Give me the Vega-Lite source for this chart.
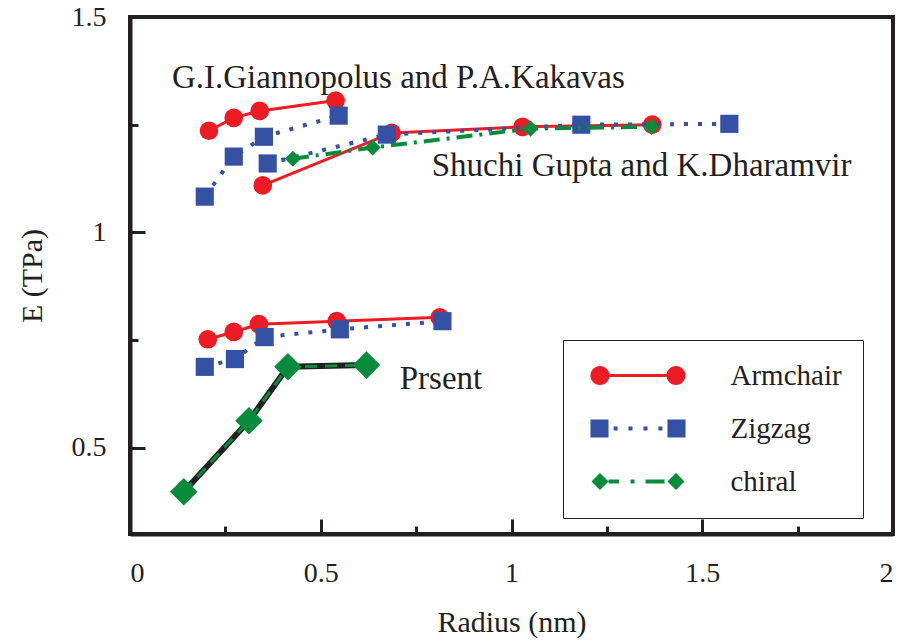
{
  "$schema": "https://vega.github.io/schema/vega-lite/v6.json",
  "width": 763,
  "height": 517,
  "autosize": {"type": "none"},
  "padding": {"left": 130, "top": 17, "right": 12, "bottom": 109},
  "background": "white",
  "config": {
    "view": {"stroke": "#231f20", "strokeWidth": 4},
    "font": "Liberation Serif",
    "legend": {"strokeColor": "#231f20", "fillColor": "white"},
    "axis": {
      "grid": false,
      "domainColor": "#231f20",
      "domainWidth": 4,
      "tickColor": "#231f20",
      "tickWidth": 3,
      "labelFont": "Liberation Serif",
      "labelFontSize": 28,
      "labelColor": "#231f20",
      "titleFont": "Liberation Serif",
      "titleFontSize": 30,
      "titleFontWeight": "normal",
      "titleColor": "#231f20"
    }
  },
  "datasets": {
    "main": [
      {"group": "Giannopolus", "type": "Armchair", "r": 0.207, "E": 1.236},
      {"group": "Giannopolus", "type": "Armchair", "r": 0.272, "E": 1.266},
      {"group": "Giannopolus", "type": "Armchair", "r": 0.340, "E": 1.282},
      {"group": "Giannopolus", "type": "Armchair", "r": 0.539, "E": 1.306},
      {"group": "Giannopolus", "type": "Zigzag", "r": 0.196, "E": 1.083},
      {"group": "Giannopolus", "type": "Zigzag", "r": 0.272, "E": 1.176},
      {"group": "Giannopolus", "type": "Zigzag", "r": 0.351, "E": 1.222},
      {"group": "Giannopolus", "type": "Zigzag", "r": 0.547, "E": 1.271},
      {"group": "Gupta", "type": "Armchair", "r": 0.348, "E": 1.109},
      {"group": "Gupta", "type": "Armchair", "r": 0.686, "E": 1.231},
      {"group": "Gupta", "type": "Armchair", "r": 1.029, "E": 1.245},
      {"group": "Gupta", "type": "Armchair", "r": 1.369, "E": 1.250},
      {"group": "Gupta", "type": "Zigzag", "r": 0.361, "E": 1.160},
      {"group": "Gupta", "type": "Zigzag", "r": 0.673, "E": 1.227},
      {"group": "Gupta", "type": "Zigzag", "r": 1.183, "E": 1.250},
      {"group": "Gupta", "type": "Zigzag", "r": 1.571, "E": 1.252},
      {"group": "Gupta", "type": "chiral", "r": 0.427, "E": 1.171},
      {"group": "Gupta", "type": "chiral", "r": 0.636, "E": 1.197},
      {"group": "Gupta", "type": "chiral", "r": 1.050, "E": 1.241},
      {"group": "Gupta", "type": "chiral", "r": 1.367, "E": 1.245},
      {"group": "Present", "type": "Armchair", "r": 0.204, "E": 0.752},
      {"group": "Present", "type": "Armchair", "r": 0.272, "E": 0.769},
      {"group": "Present", "type": "Armchair", "r": 0.338, "E": 0.787},
      {"group": "Present", "type": "Armchair", "r": 0.542, "E": 0.794},
      {"group": "Present", "type": "Armchair", "r": 0.812, "E": 0.803},
      {"group": "Present", "type": "Zigzag", "r": 0.196, "E": 0.688},
      {"group": "Present", "type": "Zigzag", "r": 0.275, "E": 0.706},
      {"group": "Present", "type": "Zigzag", "r": 0.353, "E": 0.757},
      {"group": "Present", "type": "Zigzag", "r": 0.550, "E": 0.775},
      {"group": "Present", "type": "Zigzag", "r": 0.819, "E": 0.794},
      {"group": "Present", "type": "chiral", "r": 0.141, "E": 0.398},
      {"group": "Present", "type": "chiral", "r": 0.312, "E": 0.563},
      {"group": "Present", "type": "chiral", "r": 0.414, "E": 0.688},
      {"group": "Present", "type": "chiral", "r": 0.620, "E": 0.692}
    ],
    "notes": [
      {"label": "G.I.Giannopolus and P.A.Kakavas", "r": 0.11, "E": 1.336},
      {"label": "Shuchi Gupta and K.Dharamvir", "r": 0.791, "E": 1.132},
      {"label": "Prsent", "r": 0.707, "E": 0.637}
    ]
  },
  "data": {"name": "main"},
  "encoding": {
    "x": {
      "field": "r", "type": "quantitative",
      "scale": {"domain": [0, 2], "nice": false, "zero": false},
      "axis": {
        "title": "Radius (nm)",
        "values": [0, 0.25, 0.5, 0.75, 1, 1.25, 1.5, 1.75, 2],
        "labelExpr": "datum.value % 0.5 == 0 ? format(datum.value, '~g') : ''",
        "tickSize": {"condition": {"test": "datum.value % 0.5 == 0", "value": -15}, "value": -8},
        "labelPadding": 40,
        "titlePadding": 20
      }
    },
    "y": {
      "field": "E", "type": "quantitative",
      "scale": {"domain": [0.3, 1.5], "nice": false, "zero": false},
      "axis": {
        "title": "E (TPa)",
        "values": [0.5, 0.75, 1, 1.25, 1.5],
        "labelExpr": "datum.value % 0.5 == 0 ? format(datum.value, '~g') : ''",
        "tickSize": {"condition": {"test": "datum.value % 0.5 == 0", "value": -15}, "value": -8},
        "labelPadding": 39,
        "titlePadding": 24
      }
    }
  },
  "layer": [
    {
      "transform": [{"filter": "datum.type == 'Armchair'"}],
      "mark": {"type": "line", "color": "#ed1c24", "strokeWidth": 3, "point": {"filled": true, "shape": "circle", "size": 350, "color": "#ed1c24", "opacity": 1}},
      "encoding": {"detail": {"field": "group", "type": "nominal"}}
    },
    {
      "transform": [{"filter": "datum.type == 'Zigzag'"}],
      "mark": {"type": "line", "color": "#3551a4", "strokeWidth": 4, "strokeDash": [4, 10], "point": {"filled": true, "shape": "square", "size": 330, "color": "#3551a4", "opacity": 1}},
      "encoding": {"detail": {"field": "group", "type": "nominal"}}
    },
    {
      "transform": [{"filter": "datum.type == 'chiral' && datum.group == 'Gupta'"}],
      "mark": {"type": "line", "color": "#078c3e", "strokeWidth": 4, "strokeDash": [16, 7, 3, 7], "point": {"filled": true, "shape": "diamond", "size": 260, "color": "#078c3e", "opacity": 1}},
      "encoding": {"detail": {"field": "group", "type": "nominal"}}
    },
    {
      "transform": [{"filter": "datum.type == 'chiral' && datum.group == 'Present'"}],
      "mark": {"type": "line", "color": "#231f20", "strokeWidth": 6},
      "encoding": {"detail": {"field": "group", "type": "nominal"}}
    },
    {
      "transform": [{"filter": "datum.type == 'chiral' && datum.group == 'Present'"}],
      "mark": {"type": "line", "color": "#078c3e", "strokeWidth": 3, "strokeDash": [12, 8], "point": {"filled": true, "shape": "diamond", "size": 760, "color": "#078c3e", "opacity": 1}},
      "encoding": {"detail": {"field": "group", "type": "nominal"}}
    },
    {
      "mark": {"type": "point", "filled": true, "opacity": 0},
      "encoding": {
        "shape": {
          "field": "type", "type": "nominal",
          "scale": {
            "domain": ["Armchair", "Zigzag", "chiral"],
            "range": [
              "M-6.79,0A1.357,1.357 0 1,1 -4.07,0A1.357,1.357 0 1,1 -6.79,0ZM-4.07,-0.214H4.07V0.214H-4.07ZM4.07,0A1.357,1.357 0 1,1 6.79,0A1.357,1.357 0 1,1 4.07,0Z",
              "M-6.79,-1.286H-4.21V1.286H-6.79ZM4.21,-1.286H6.79V1.286H4.21ZM-3.49,-0.286H-2.91V0.286H-3.49ZM-1.36,-0.286H-0.78V0.286H-1.36ZM0.78,-0.286H1.36V0.286H0.78ZM2.91,-0.286H3.49V0.286H2.91Z",
              "M-6.64,0L-5.43,-1.214L-4.21,0L-5.43,1.214ZM4.21,0L5.43,-1.214L6.64,0L5.43,1.214ZM-4.21,-0.286H-2.71V0.286H-4.21ZM-1.07,-0.286H-0.5V0.286H-1.07ZM1.07,-0.286H3.79V0.286H1.07Z"
            ]
          },
          "legend": {
            "title": null,
            "orient": "none",
            "legendX": 433,
            "legendY": 323,
            "symbolSize": 196,
            "symbolOffset": 39.5,
            "symbolStrokeWidth": 0,
            "symbolOpacity": 1,
            "labelFont": "Liberation Serif",
            "labelFontSize": 29,
            "labelColor": "#231f20",
            "labelOffset": 78,
            "labelExpr": "datum.label + '\u00a0\u00a0\u00a0'",
            "rowPadding": 23,
            "padding": 21,
            "encode": {"legend": {"update": {"strokeWidth": {"value": 4}}}}
          }
        },
        "fill": {
          "field": "type", "type": "nominal",
          "scale": {"domain": ["Armchair", "Zigzag", "chiral"], "range": ["#ed1c24", "#3551a4", "#078c3e"]}
        }
      }
    },
    {
      "data": {"name": "notes"},
      "mark": {"type": "text", "align": "left", "baseline": "alphabetic", "font": "Liberation Serif", "fontSize": 33, "color": "#231f20"},
      "encoding": {"text": {"field": "label", "type": "nominal"}}
    }
  ]
}
